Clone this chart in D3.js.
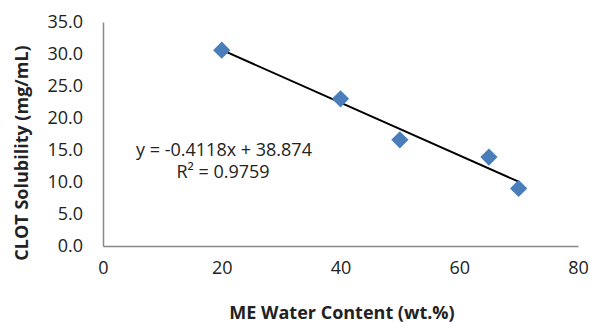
<!DOCTYPE html>
<html>
<head>
<meta charset="utf-8">
<script src="https://cdn.jsdelivr.net/npm/d3@7"></script>
<style>
  body { margin: 0; background: #fff; }
  text { font-family: "Open Sans", "Liberation Sans", sans-serif; }
</style>
</head>
<body>
<div id="chart"></div>
<script>
const waterContent = [20, 40, 50, 65, 70];
const solubility = [30.6, 23.0, 16.6, 13.9, 9.0];
const xTicks = [0, 20, 40, 60, 80];
const yTicks = [0, 5, 10, 15, 20, 25, 30, 35];
const slope = -0.4118, intercept = 38.874;

const width = 590, height = 324;
const margin = { top: 22, right: 12, bottom: 78, left: 103 };

const svg = d3.select('#chart').append('svg')
  .attr('width', width).attr('height', height);

const x = d3.scaleLinear().domain([0, 80]).range([margin.left, 578]);
const y = d3.scaleLinear().domain([0, 35]).range([246, margin.top]);

// axes
svg.append('g')
  .attr('transform', `translate(0,${y(0)})`)
  .call(d3.axisBottom(x).tickValues(xTicks).tickSize(0).tickPadding(15))
  .call(g => g.select('.domain').attr('stroke', '#888').attr('stroke-width', 1.5))
  .call(g => g.selectAll('text').attr('font-size', '18px').attr('fill', '#222'));

svg.append('g')
  .attr('transform', `translate(${x(0)},0)`)
  .call(d3.axisLeft(y).tickValues(yTicks).tickFormat(d3.format('.1f')).tickSize(0).tickPadding(20))
  .call(g => g.select('.domain').attr('stroke', '#888').attr('stroke-width', 1.5))
  .call(g => g.selectAll('text').attr('font-size', '18px').attr('fill', '#222'));

// trend line
svg.append('line')
  .attr('x1', x(20)).attr('y1', y(slope * 20 + intercept))
  .attr('x2', x(70)).attr('y2', y(slope * 70 + intercept))
  .attr('stroke', '#000').attr('stroke-width', 2);

// points
svg.append('g').selectAll('path')
  .data(waterContent.map((d, i) => [d, solubility[i]]))
  .join('path')
  .attr('d', d3.symbol(d3.symbolDiamond2, 190))
  .attr('transform', d => `translate(${x(d[0])},${y(d[1])})`)
  .attr('fill', '#4a7ebb');

// equation
svg.append('text').attr('x', 224).attr('y', 156).attr('text-anchor', 'middle')
  .attr('font-size', '18px').attr('fill', '#222')
  .text('y = -0.4118x + 38.874');
svg.append('text').attr('x', 223).attr('y', 178).attr('text-anchor', 'middle')
  .attr('font-size', '18px').attr('fill', '#222')
  .text('R² = 0.9759');

// axis titles
svg.append('text').attr('x', 342).attr('y', 319).attr('text-anchor', 'middle')
  .attr('font-size', '18px').attr('font-weight', 'bold').attr('fill', '#222')
  .text('ME Water Content (wt.%)');
svg.append('text').attr('transform', 'translate(28,153) rotate(-90)')
  .attr('text-anchor', 'middle')
  .attr('font-size', '18px').attr('font-weight', 'bold').attr('fill', '#222')
  .text('CLOT Solubility (mg/mL)');
</script>
</body>
</html>
